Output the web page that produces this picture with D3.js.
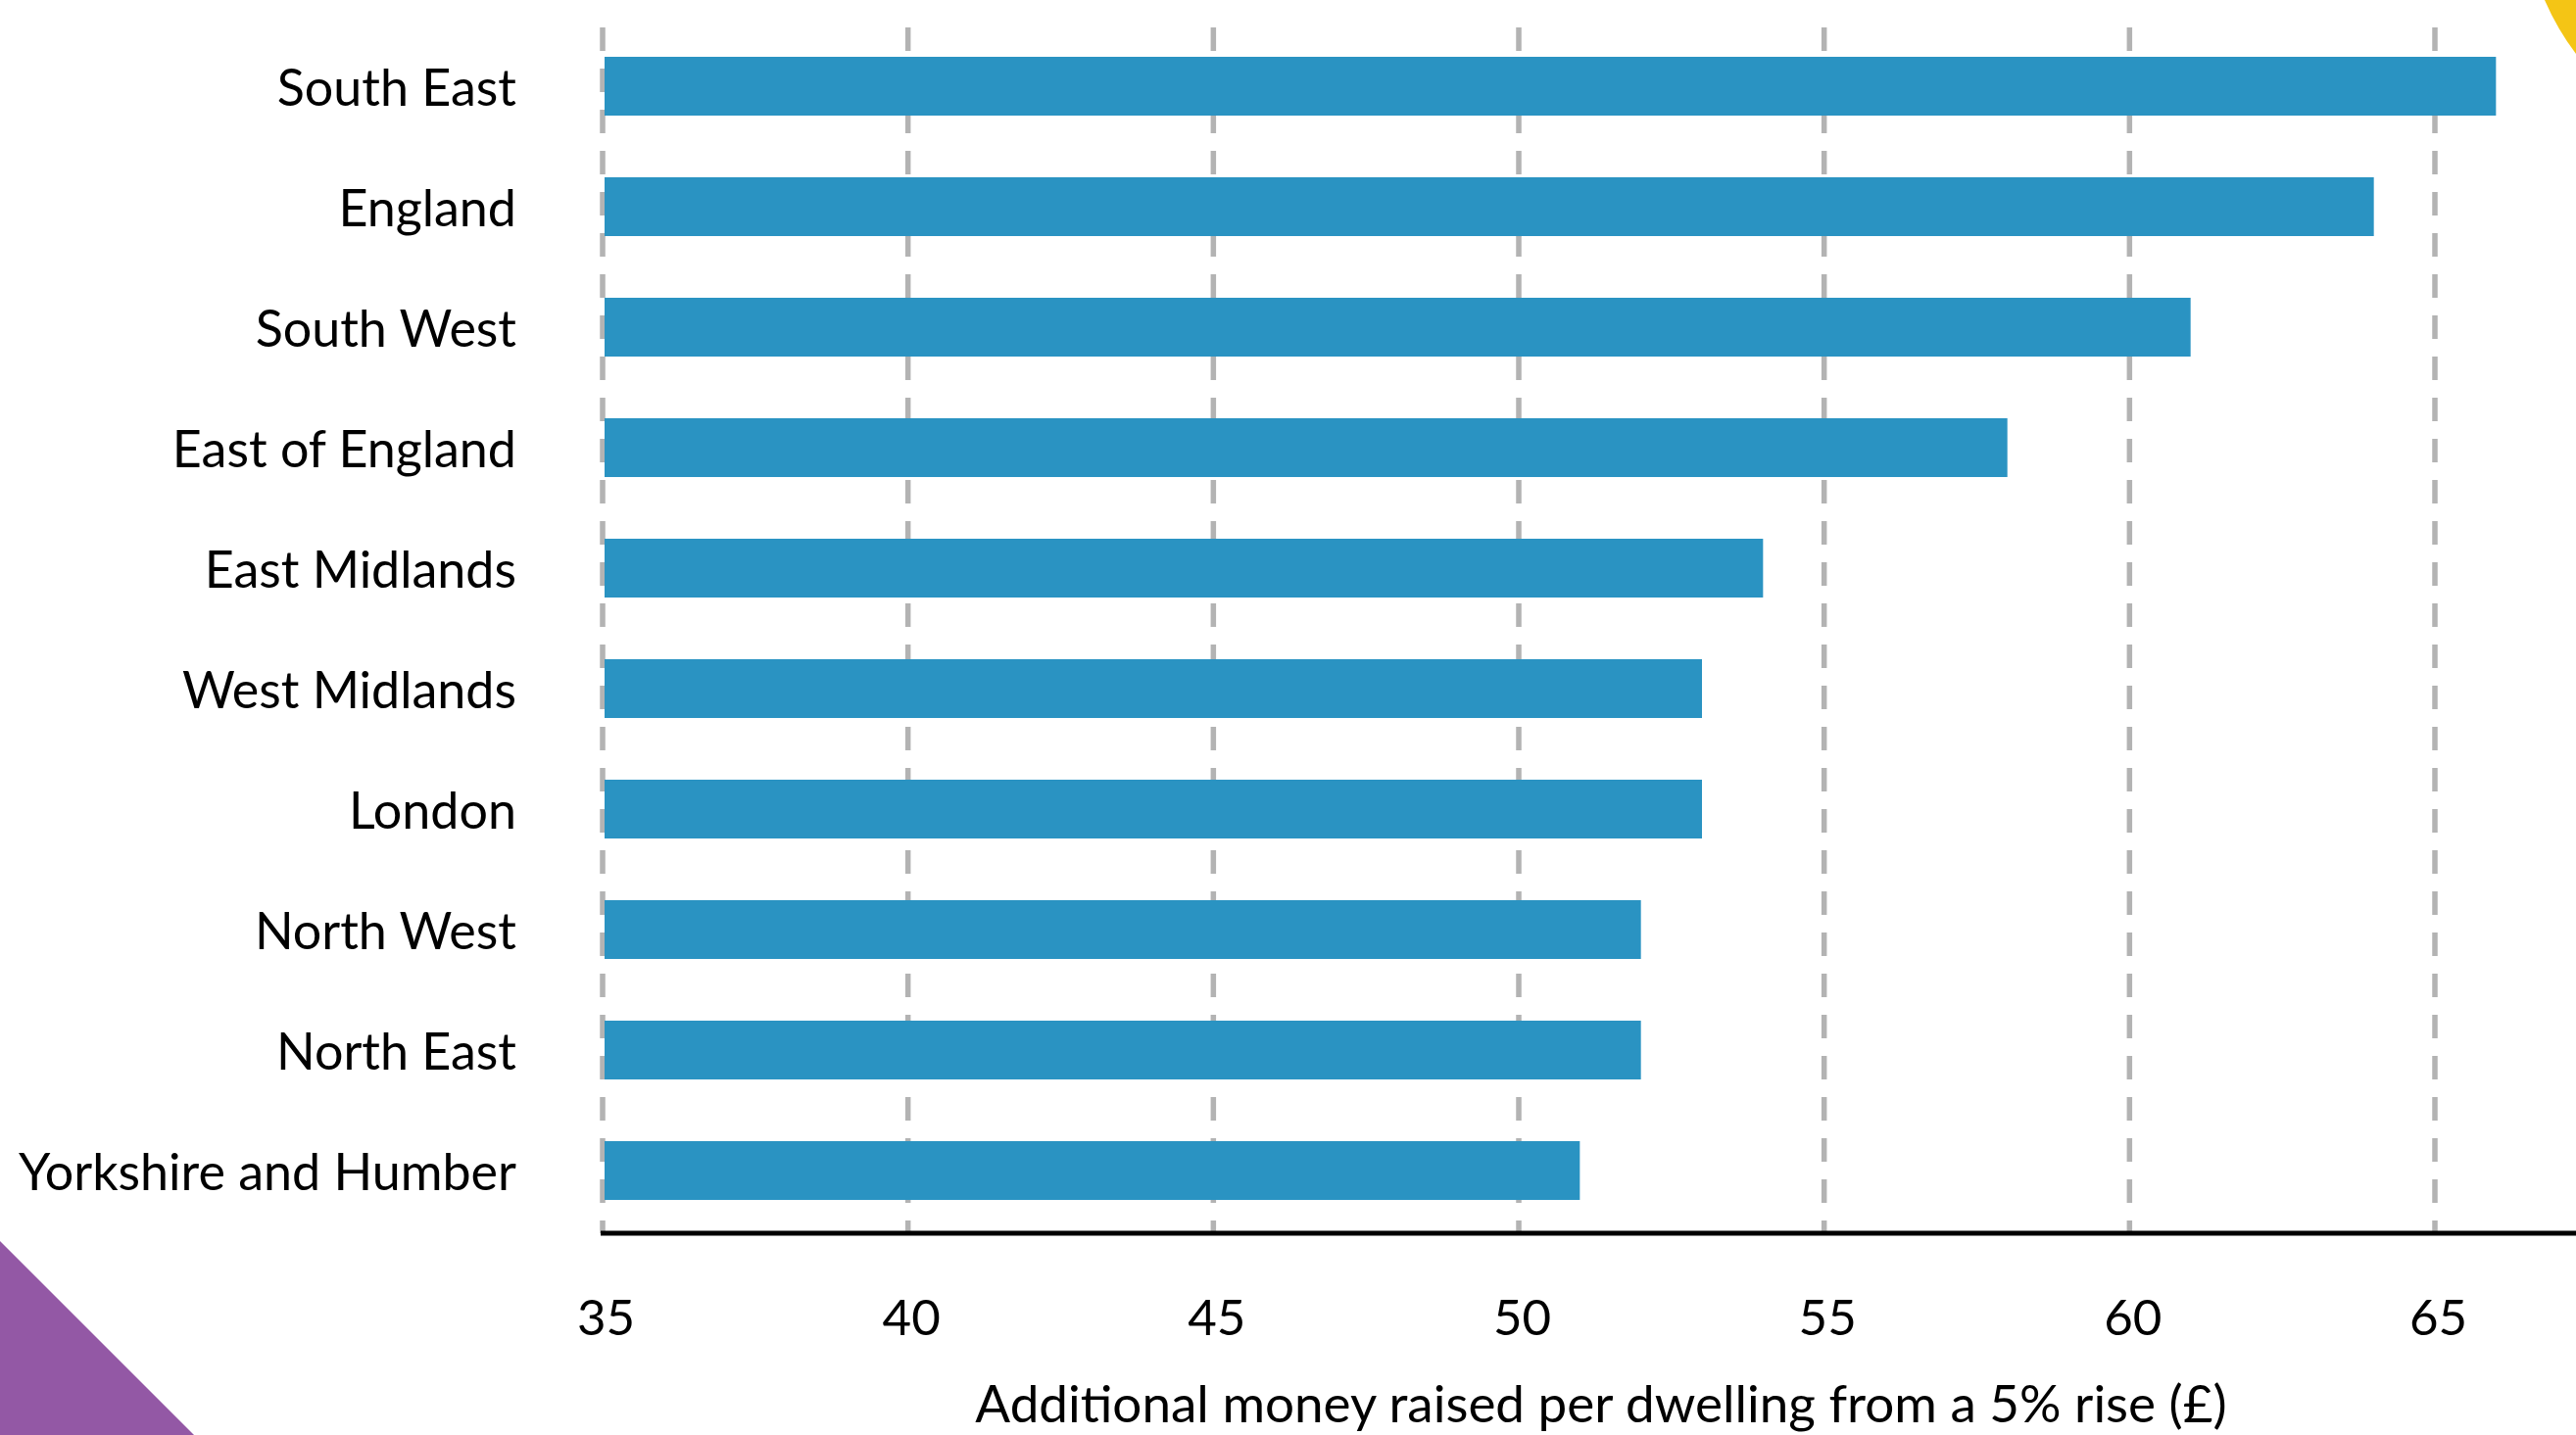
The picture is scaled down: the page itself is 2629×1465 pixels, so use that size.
<!DOCTYPE html>
<html>
<head>
<meta charset="utf-8">
<script src="https://cdn.jsdelivr.net/npm/d3@7"></script>
<style>
html,body{margin:0;padding:0;background:#fff;overflow:hidden;}
svg{display:block;}
text{font-family:Lato, "Open Sans", sans-serif;fill:#000;}
</style>
</head>
<body>
<svg id="chart" width="2629" height="1465"></svg>
<script>
const categories = ["South East","England","South West","East of England","East Midlands","West Midlands","London","North West","North East","Yorkshire and Humber"];
const values = [66,64,61,58,54,53,53,52,52,51];
const tickValues = [35,40,45,50,55,60,65];
const axisTitle = "Additional money raised per dwelling from a 5% rise (£)";

const svg = d3.select("#chart");
const W = 2629, H = 1465;

const x = d3.scaleLinear().domain([35,65]).range([615,2485]);
const y = d3.scaleBand().domain(categories).range([26.5,1256.5]).paddingInner(0.512).paddingOuter(0.256);
const axisY = 1259;

// decorations
svg.append("path").attr("d", `M0,1267 L198,1465 L0,1465 Z`).attr("fill","#9358a5");
svg.append("path").attr("d", `M2597,0 Q2610,30 2629,55 L2629,0 Z`).attr("fill","#f4c515");

// gridlines
svg.append("g").selectAll("line").data(tickValues).join("line")
  .attr("x1", d=>x(d)).attr("x2", d=>x(d))
  .attr("y1", 28).attr("y2", axisY)
  .attr("stroke","#b3b3b3").attr("stroke-width",5.5)
  .attr("stroke-dasharray","24,18");

// bars
svg.append("g").selectAll("rect").data(categories).join("rect")
  .attr("x", x(35)+2)
  .attr("y", d=>y(d))
  .attr("width", (d,i)=>x(values[i])-x(35)-2)
  .attr("height", y.bandwidth())
  .attr("fill","#2a93c2");

// category labels
svg.append("g").selectAll("text").data(categories).join("text")
  .attr("x", 527)
  .attr("y", d=>y(d)+y.bandwidth()/2)
  .attr("dy","0.38em")
  .attr("text-anchor","end")
  .attr("font-size", 52)
  .text(d=>d);

// x axis
const xAxis = d3.axisBottom(x).tickValues(tickValues).tickSize(0).tickPadding(0);
const gx = svg.append("g").attr("transform",`translate(3,1363)`).call(xAxis);
gx.select(".domain").remove();
gx.selectAll("text").attr("font-size",51).attr("dy",0).attr("fill","#000")
  .style("font-family","Lato, 'Open Sans', sans-serif");

svg.append("line").attr("x1",613).attr("x2",W).attr("y1",axisY).attr("y2",axisY)
  .attr("stroke","#000").attr("stroke-width",5);

// axis title
svg.append("text").attr("x",1634).attr("y",1452).attr("text-anchor","middle")
  .attr("font-size",53).text(axisTitle);
</script>
</body>
</html>
